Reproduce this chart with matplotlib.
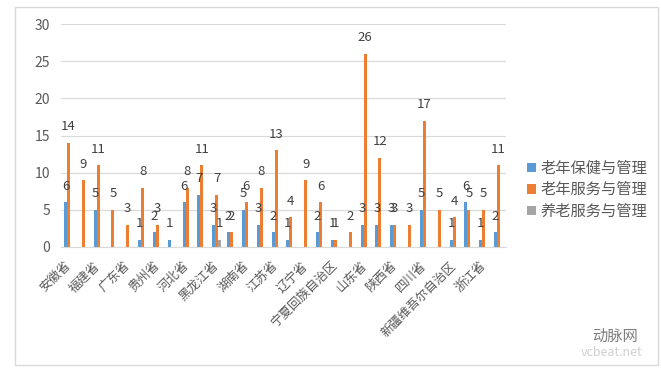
import numpy as np
import matplotlib
matplotlib.use("Agg")
import matplotlib.pyplot as plt
from matplotlib.patches import Rectangle

plt.rcParams['font.family'] = ['Noto Sans CJK SC', 'DejaVu Sans']

# provinces (only every other one gets a tick label, like the original Excel chart)
provinces = ["安徽省", "北京市", "福建省", "甘肃省", "广东省", "广西壮族自治区",
             "贵州省", "海南省", "河北省", "河南省", "黑龙江省", "湖北省",
             "湖南省", "吉林省", "江苏省", "江西省", "辽宁省", "内蒙古自治区",
             "宁夏回族自治区", "青海省", "山东省", "山西省", "陕西省", "上海市",
             "四川省", "天津市", "新疆维吾尔自治区", "云南省", "浙江省", "重庆市"]

health = [6, 0, 5, 0, 0, 1, 2, 1, 6, 7, 3, 2, 5, 3, 2,
          1, 0, 2, 1, 0, 3, 3, 3, 0, 5, 0, 1, 6, 1, 2]
service = [14, 9, 11, 5, 3, 8, 3, 0, 8, 11, 7, 2, 6, 8, 13,
           4, 9, 6, 1, 2, 26, 12, 3, 3, 17, 5, 4, 5, 5, 11]
care = [0, 0, 0, 0, 0, 0, 0, 0, 0, 0, 1, 0, 0, 0, 0,
        0, 0, 0, 0, 0, 0, 0, 0, 0, 0, 0, 0, 0, 0, 0]

series_names = ["老年保健与管理", "老年服务与管理", "养老服务与管理"]
colors = ["#5B9BD5", "#ED7D31", "#A5A5A5"]

fig = plt.figure(figsize=(6.61, 3.72), dpi=100)
ax = fig.add_axes([61 / 661, 1 - 247 / 372, 445 / 661, 223 / 372])

x = np.arange(len(provinces))
w = 0.2
for i, (vals, name, c) in enumerate(zip([health, service, care], series_names, colors)):
    pos = x + (i - 1) * w
    ax.bar(pos, vals, width=w, color=c, label=name, linewidth=0)
    for px, v in zip(pos, vals):
        if v > 0:
            ax.annotate(str(v), (px, v), xytext=(0, 11.5), textcoords="offset points",
                        ha="center", va="center", fontsize=9.5, color="#404040")

ax.set_xlim(-0.5, len(provinces) - 0.5)
ax.set_ylim(0, 30)
ax.set_yticks(range(0, 31, 5))
ax.yaxis.grid(True, color="#D9D9D9", linewidth=0.8)
ax.set_axisbelow(True)
ax.set_xticks(x[::2])
ax.set_xticklabels(provinces[::2], rotation=45, ha="right", va="center",
                   rotation_mode="anchor", fontsize=9, color="#595959")
ax.tick_params(axis="both", length=0)
ax.tick_params(axis="x", pad=12)
ax.tick_params(axis="y", labelsize=10, labelcolor="#595959", pad=8)
for s in ["left", "right", "top"]:
    ax.spines[s].set_visible(False)
ax.spines["bottom"].set_color("#D9D9D9")

fig.legend(loc="upper left", bbox_to_anchor=(513 / 661, 1 - 146 / 372), frameon=False,
           fontsize=11, handlelength=0.6, handleheight=0.6, handletextpad=0.3,
           labelspacing=0.3, labelcolor="#595959")

fig.patches.append(Rectangle((15 / 661, 1 - 365 / 372), 643 / 661, 358 / 372,
                             transform=fig.transFigure, fill=False,
                             edgecolor="#D9D9D9", linewidth=1))

fig.text(0.93, 1 - 336 / 372, "动脉网", fontsize=11, color="#7F7F7F",
         ha="center", va="center")
fig.text(0.925, 1 - 353 / 372, "vcbeat.net", fontsize=9, color="#D0D0D0",
         ha="center", va="center")

fig.savefig("out.png", dpi=100, facecolor="white")
